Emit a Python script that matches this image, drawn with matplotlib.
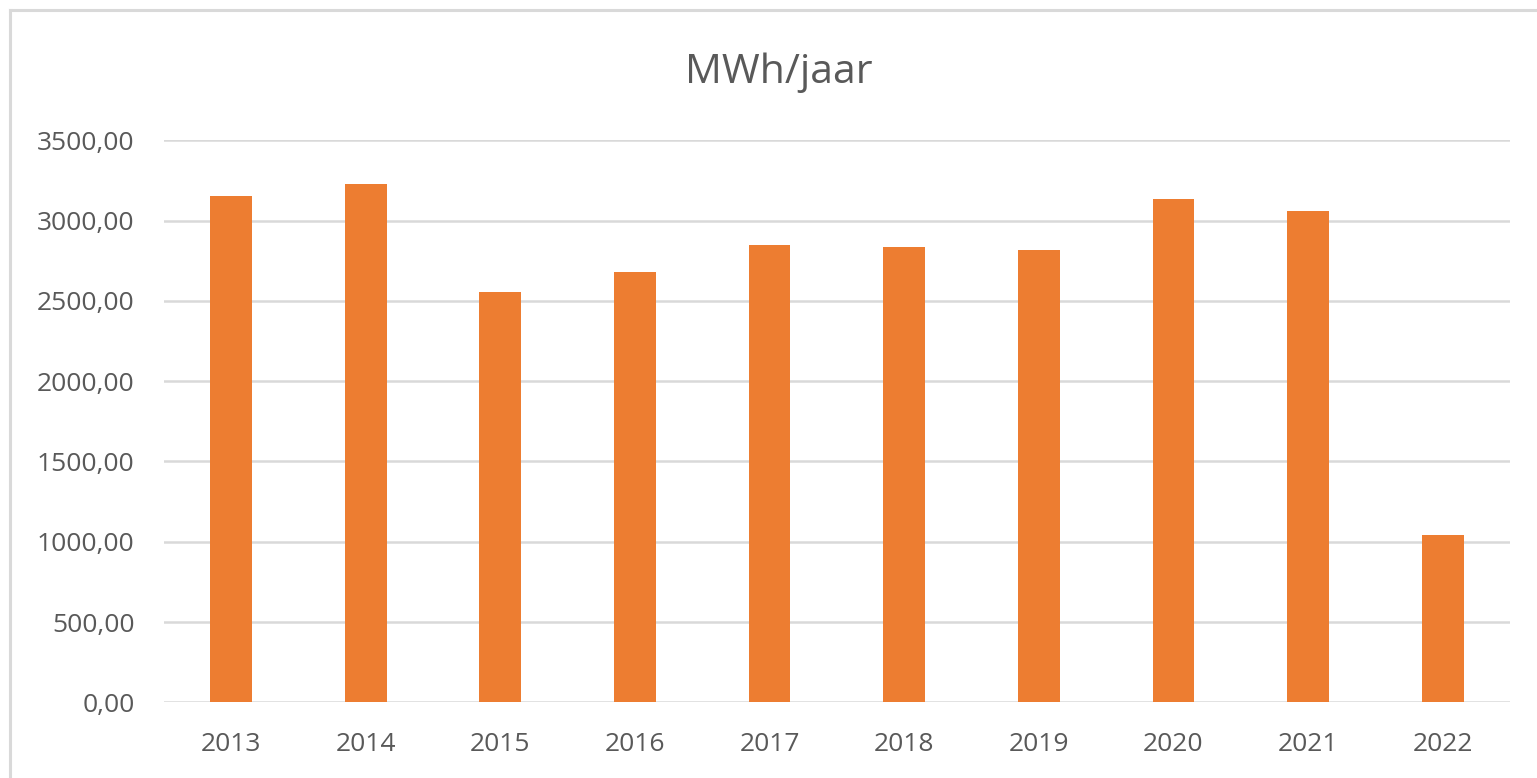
import numpy as np
import matplotlib
matplotlib.use("Agg")
import matplotlib.pyplot as plt
from matplotlib.lines import Line2D

# data
jaren = ["2013", "2014", "2015", "2016", "2017", "2018", "2019", "2020", "2021", "2022"]
mwh = [3152, 3225, 2553, 2680, 2850, 2837, 2818, 3132, 3059, 1044]
y_ticks = [0, 500, 1000, 1500, 2000, 2500, 3000, 3500]

plt.rcParams['font.family'] = ['Open Sans', 'DejaVu Sans']

W, H = 1537, 778
fig = plt.figure(figsize=(W / 100, H / 100), dpi=100)
ax = fig.add_axes([163.7 / W, 1 - 702.3 / H, (1510 - 163.7) / W, (702.3 - 140.3) / H])

x = np.arange(len(jaren))
ax.bar(x, mwh, width=0.31, color="#ED7D31", zorder=3)

ax.set_xlim(-0.5, len(jaren) - 0.5)
ax.set_ylim(0, 3500)
ax.set_yticks(y_ticks)
ax.set_yticklabels([f"{v:.2f}".replace(".", ",") for v in y_ticks])
ax.set_xticks(x)
ax.set_xticklabels(jaren)

ax.grid(axis="y", color="#D9D9D9", linewidth=1.8, zorder=0)
ax.set_axisbelow(True)
for s in ax.spines.values():
    s.set_visible(False)
ax.tick_params(axis="both", length=0, labelsize=19, labelcolor="#595959")
ax.tick_params(axis="y", pad=21)
ax.tick_params(axis="x", pad=21.5)

fig.text(779 / W, 1 - 83 / H, "MWh/jaar", fontsize=29.5, color="#595959",
         ha="center", va="baseline")

# light chart border (left and top visible)
fig.add_artist(Line2D([10 / W, 10 / W], [0, 1 - 10 / H], color="#D9D9D9", linewidth=2.2,
                      transform=fig.transFigure))
fig.add_artist(Line2D([10 / W, 1], [1 - 10 / H, 1 - 10 / H], color="#D9D9D9", linewidth=2.2,
                      transform=fig.transFigure))

fig.savefig("out.png", dpi=100)
